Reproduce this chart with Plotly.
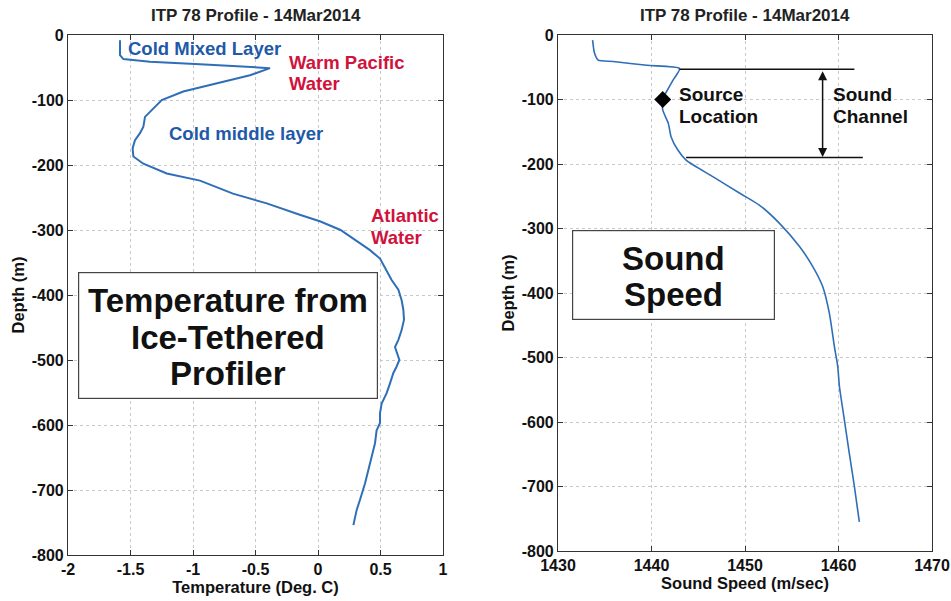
import plotly.graph_objects as go

# ---- Data ----
temp_c = [-1.584, -1.584, -1.557, -1.344, -0.944, -0.624, -0.384, -0.544, -0.81, -1.078,
          -1.25, -1.33, -1.384, -1.397, -1.424, -1.464, -1.483, -1.477, -1.397, -1.21,
          -0.944, -0.68, -0.41, -0.14, 0.02, 0.18, 0.296, 0.416, 0.496, 0.549, 0.589,
          0.643, 0.669, 0.683, 0.688, 0.669, 0.643, 0.616, 0.635, 0.651, 0.629, 0.603,
          0.576, 0.549, 0.509, 0.496, 0.496, 0.469, 0.456, 0.416, 0.376, 0.336, 0.309, 0.283]
temp_depth = [-8, -31, -37, -41, -45, -48, -51, -62, -74, -87,
              -100, -115, -126, -141, -151, -162, -174, -187, -198, -213,
              -224, -244, -259, -277, -287, -300, -315, -331, -344, -362, -377,
              -392, -408, -423, -438, -454, -469, -480, -492, -500, -510, -520,
              -536, -551, -567, -582, -597, -608, -628, -659, -690, -715, -731, -754]

speed = [1433.7, 1433.9, 1434.3, 1435.9, 1439.5, 1443.0, 1442.3, 1441.6, 1441.2, 1441.2,
         1441.8, 1442.1, 1442.8, 1443.7, 1446.6, 1449.4, 1451.56, 1453.69, 1455.83, 1457.25,
         1458.31, 1459.03, 1459.56, 1459.92, 1460.10, 1460.63, 1461.16, 1461.70, 1462.23]
speed_depth = [-8, -28, -39, -41, -47, -52, -70, -88, -99, -116,
               -137, -158, -178, -194, -220, -245, -264, -292, -328, -359,
               -390, -432, -483, -514, -545, -597, -649, -700, -755]

source_speed = [1441.2]
source_depth = [-100]

channel_top = -53
channel_bottom = -190
channel_top_x = [1443.0, 1461.7]
channel_bottom_x = [1443.7, 1462.6]
channel_arrow_x = 1458.3

temp_ticks = [-2, -1.5, -1, -0.5, 0, 0.5, 1]
temp_ticklabels = ["-2", "-1.5", "-1", "-0.5", "0", "0.5", "1"]
speed_ticks = [1430, 1440, 1450, 1460, 1470]
depth_ticks = [0, -100, -200, -300, -400, -500, -600, -700, -800]
depth_ticklabels = ["0", "-100", "-200", "-300", "-400", "-500", "-600", "-700", "-800"]

title_text = "ITP 78 Profile - 14Mar2014"

# ---- Style ----
FONT = "Liberation Sans, Arial, sans-serif"
LINE_BLUE = "#2f6fb8"
TXT_BLUE = "#1f5aa8"
TXT_RED = "#d0123c"
W, H = 951, 601

fig = go.Figure()
fig.add_trace(go.Scatter(x=temp_c, y=temp_depth, mode="lines",
                         line=dict(color=LINE_BLUE, width=2), xaxis="x", yaxis="y",
                         showlegend=False, hoverinfo="skip"))
fig.add_trace(go.Scatter(x=speed, y=speed_depth, mode="lines",
                         line=dict(color=LINE_BLUE, width=1.6, shape="spline", smoothing=0.6),
                         xaxis="x2", yaxis="y2", showlegend=False, hoverinfo="skip"))
fig.add_trace(go.Scatter(x=source_speed, y=source_depth, mode="markers",
                         marker=dict(symbol="diamond", size=13, color="black"),
                         xaxis="x2", yaxis="y2", showlegend=False, hoverinfo="skip"))

axis_common = dict(showline=True, linecolor="#333", linewidth=1.2, mirror="allticks",
                   ticks="inside", ticklen=5, tickcolor="#333", automargin=False,
                   showgrid=True, gridcolor="#c8c8c8", griddash="dot", gridwidth=1,
                   zeroline=False,
                   tickfont=dict(family=FONT, size=16, color="#111"))
TITLE_FONT = dict(family=FONT, size=16.5, color="#111")

fig.update_layout(
    width=W, height=H, margin=dict(l=0, r=0, t=0, b=0, autoexpand=False),
    paper_bgcolor="white", plot_bgcolor="white",
    font=dict(family=FONT, color="#111"),
    xaxis=dict(domain=[68 / W, 443 / W], range=[-2, 1], tickvals=temp_ticks,
               ticktext=["<b>%s</b>" % t for t in temp_ticklabels],
               title=dict(text="<b>Temperature (Deg. C)</b>", font=TITLE_FONT, standoff=2),
               anchor="y", **axis_common),
    yaxis=dict(domain=[1 - 555 / H, 1 - 35 / H], range=[-800, 0], tickvals=depth_ticks,
               ticktext=["<b>%s</b>" % t for t in depth_ticklabels],
               title=dict(text="<b>Depth (m)</b>", font=TITLE_FONT, standoff=2),
               anchor="x", **axis_common),
    xaxis2=dict(domain=[558 / W, 932 / W], range=[1430, 1470], tickvals=speed_ticks,
                ticktext=["<b>%d</b>" % t for t in speed_ticks],
                title=dict(text="<b>Sound Speed (m/sec)</b>", font=TITLE_FONT, standoff=2),
                anchor="y2", **axis_common),
    yaxis2=dict(domain=[1 - 551 / H, 1 - 35 / H], range=[-800, 0], tickvals=depth_ticks,
                ticktext=["<b>%s</b>" % t for t in depth_ticklabels],
                title=dict(text="<b>Depth (m)</b>", font=TITLE_FONT, standoff=2),
                anchor="x2", **axis_common),
)

# Sound channel lines
fig.add_shape(type="line", xref="x2", yref="y2", x0=channel_top_x[0], x1=channel_top_x[1],
              y0=channel_top, y1=channel_top, line=dict(color="#111", width=1.5))
fig.add_shape(type="line", xref="x2", yref="y2", x0=channel_bottom_x[0], x1=channel_bottom_x[1],
              y0=channel_bottom, y1=channel_bottom, line=dict(color="#111", width=1.5))
fig.add_annotation(xref="x2", yref="y2", axref="x2", ayref="y2",
                   x=channel_arrow_x, y=channel_bottom + 1, ax=channel_arrow_x, ay=channel_top - 1,
                   showarrow=True, arrowhead=2, arrowside="end+start", arrowsize=1.2,
                   arrowwidth=1.5, arrowcolor="#111", text="")

# Boxes (frames)
fig.add_annotation(x=-0.72, y=-462.5, xref="x", yref="y", showarrow=False, text="",
                   width=298, height=125, bgcolor="white", bordercolor="#444", borderwidth=1.2,
                   borderpad=0, xanchor="center", yanchor="middle")
fig.add_annotation(x=1442.3, y=-372, xref="x2", yref="y2", showarrow=False, text="",
                   width=201, height=88, bgcolor="white", bordercolor="#444", borderwidth=1.2,
                   borderpad=0, xanchor="center", yanchor="middle")


def txt(x, y, text, color, size=18.5, xref="x", yref="y", xanchor="left"):
    fig.add_annotation(x=x, y=y, xref=xref, yref=yref, text="<b>%s</b>" % text, showarrow=False,
                       xanchor=xanchor, yanchor="middle", align="left", borderpad=0,
                       font=dict(family=FONT, size=size, color=color))


# Titles
txt((68 + 443) / 2 / W, 1 - 16 / H, title_text, "#222", 17, "paper", "paper", "center")
txt((558 + 932) / 2 / W, 1 - 16 / H, title_text, "#222", 17, "paper", "paper", "center")

# Left annotations
txt(-1.53, -21, "Cold Mixed Layer", TXT_BLUE)
txt(-0.24, -43, "Warm Pacific", TXT_RED)
txt(-0.24, -75, "Water", TXT_RED)
txt(-1.20, -152, "Cold middle layer", TXT_BLUE)
txt(0.416, -278, "Atlantic", TXT_RED)
txt(0.416, -311, "Water", TXT_RED)

# Right annotations
txt(1442.8, -93, "Source", "#111", 19, "x2", "y2")
txt(1442.8, -126, "Location", "#111", 19, "x2", "y2")
txt(1459.35, -93, "Sound", "#111", 19, "x2", "y2")
txt(1459.35, -126, "Channel", "#111", 19, "x2", "y2")

# Box texts
for t, d in zip(["Temperature from", "Ice-Tethered", "Profiler"], [-408, -465, -520]):
    txt(-0.72, d, t, "#111", 33, "x", "y", "center")
for t, d in zip(["Sound", "Speed"], [-346, -403]):
    txt(1442.3, d, t, "#111", 33, "x2", "y2", "center")

fig.write_html("out.html")
